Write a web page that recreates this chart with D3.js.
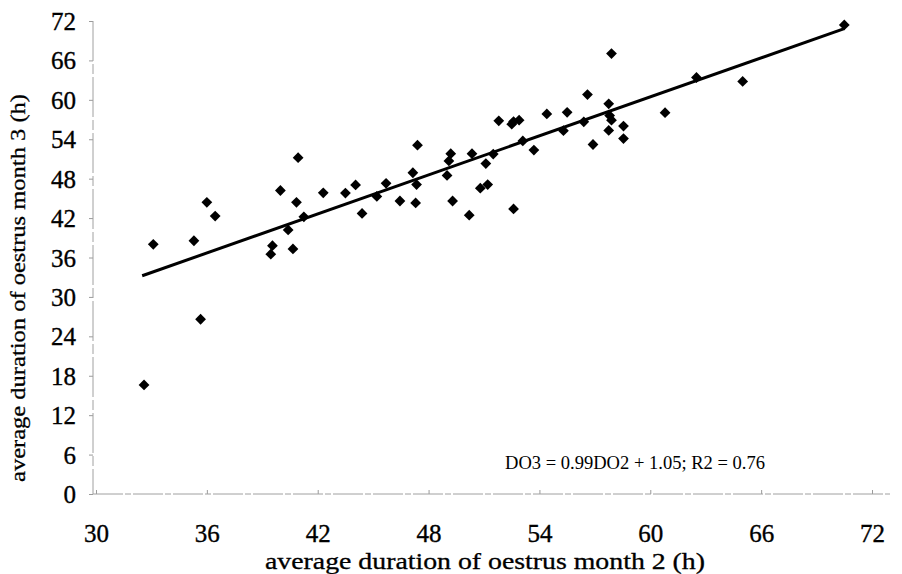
<!DOCTYPE html>
<html>
<head>
<meta charset="utf-8">
<script src="https://cdn.jsdelivr.net/npm/d3@7/dist/d3.min.js"></script>
<style>
  html, body { margin: 0; padding: 0; background: #fff; }
  svg { display: block; }
  text { font-family: "Liberation Serif", "Times New Roman", serif; fill: #000; }
</style>
</head>
<body>
<svg id="chart" width="902" height="574"></svg>
<script>
// ---- data ----
const month2 = [32.6, 33.1, 35.3, 35.66, 36.0, 36.45, 39.46, 39.55, 39.98, 40.4,
  40.66, 40.85, 40.94, 41.25, 42.3, 43.5, 44.05, 44.4, 45.2, 45.7,
  46.45, 47.15, 47.3, 47.35, 47.4, 49.0, 49.1, 49.2, 49.3, 50.2,
  50.35, 50.8, 51.1, 51.2, 51.5, 51.8, 52.5, 52.6, 52.6, 52.9,
  53.1, 53.7, 54.4, 55.3, 55.5, 56.4, 56.6, 56.9, 57.75, 57.8,
  57.9, 57.75, 57.9, 58.55, 58.55, 60.8, 62.5, 65.0, 70.5];
const month3 = [16.6, 38.0, 38.55, 26.6, 44.4, 42.3, 36.5, 37.8, 46.2, 40.2,
  37.3, 44.4, 51.2, 42.2, 45.85, 45.8, 47.05, 42.7, 45.3, 47.3,
  44.6, 48.9, 44.3, 47.1, 53.1, 48.5, 50.7, 51.8, 44.6, 42.45,
  51.8, 46.55, 50.3, 47.1, 51.75, 56.8, 56.3, 56.7, 43.4, 56.9,
  53.75, 52.35, 57.85, 55.3, 58.1, 56.65, 60.8, 53.2, 59.4, 57.6,
  56.9, 55.35, 67.05, 56.0, 54.1, 58.05, 63.4, 62.8, 71.4];
const xTicks = [30, 36, 42, 48, 54, 60, 66, 72];
const yTicks = [0, 6, 12, 18, 24, 30, 36, 42, 48, 54, 60, 66, 72];
const slope = 0.99, intercept = 1.05;
const fitRange = [32.5, 70.5];
const equation = "DO3 = 0.99DO2 + 1.05; R2 = 0.76";
const xTitle = "average duration of oestrus month 2 (h)";
const yTitle = "average duration of oestrus month 3 (h)";

// ---- chart ----
const svg = d3.select("#chart");
const x = d3.scaleLinear().domain([30, 72]).range([96, 872]);
const y = d3.scaleLinear().domain([0, 72]).range([494, 21]);
const FONT = '"Liberation Serif", "Times New Roman", serif';

// axes
const xAxis = d3.axisBottom(x).tickValues(xTicks).tickSize(4).tickPadding(26).tickSizeOuter(0);
const yAxis = d3.axisLeft(y).tickValues(yTicks).tickSize(4).tickPadding(13).tickSizeOuter(0);

const gx = svg.append("g").attr("transform", "translate(0,494)").call(xAxis);
const gy = svg.append("g").attr("transform", `translate(${x(30) - 3},0)`).call(yAxis);
[gx, gy].forEach(g => {
  g.attr("font-family", FONT).attr("font-size", 25);
  g.select(".domain").remove();
  g.selectAll(".tick line").attr("stroke", "#9a9a9a").attr("stroke-width", 1);
  g.selectAll(".tick text").attr("fill", "#000")
    .attr("stroke", "#000").attr("stroke-width", 0.35);
});
gx.selectAll(".tick line").attr("y2", -4);
gy.selectAll(".tick text").attr("dy", "0.34em");
// axis lines (faint, like the scan)
svg.append("line").attr("x1", x(30) - 3).attr("x2", 890).attr("y1", 494).attr("y2", 494)
  .attr("stroke", "#a0a0a0").attr("stroke-width", 1).attr("stroke-dasharray", "30,2,6,2");
svg.append("line").attr("x1", x(30) - 3).attr("x2", x(30) - 3).attr("y1", y(72)).attr("y2", 494)
  .attr("stroke", "#a0a0a0").attr("stroke-width", 1).attr("stroke-dasharray", "40,3,10,3");

// regression line
svg.append("line")
  .attr("x1", x(fitRange[0])).attr("y1", y(slope * fitRange[0] + intercept))
  .attr("x2", x(fitRange[1])).attr("y2", y(slope * fitRange[1] + intercept))
  .attr("stroke", "#000").attr("stroke-width", 3);

// points
const diamond = d3.symbol().type(d3.symbolSquare).size(58);
svg.append("g").selectAll("path").data(month2.map((d, i) => [d, month3[i]])).join("path")
  .attr("d", diamond)
  .attr("transform", d => `translate(${x(d[0])},${y(d[1])}) rotate(45)`)
  .attr("fill", "#000");

// equation
svg.append("text").attr("x", 505).attr("y", 469)
  .attr("textLength", 260).attr("lengthAdjust", "spacingAndGlyphs")
  .attr("font-family", FONT).attr("font-size", 19).text(equation);

// axis titles
svg.append("text").attr("x", 485).attr("y", 569).attr("text-anchor", "middle")
  .attr("textLength", 440).attr("lengthAdjust", "spacingAndGlyphs")
  .attr("font-family", FONT).attr("font-size", 23)
  .attr("stroke", "#000").attr("stroke-width", 0.3).text(xTitle);
svg.append("text").attr("transform", "translate(25,288) rotate(-90)").attr("text-anchor", "middle")
  .attr("textLength", 388).attr("lengthAdjust", "spacingAndGlyphs")
  .attr("font-family", FONT).attr("font-size", 22)
  .attr("stroke", "#000").attr("stroke-width", 0.3).text(yTitle);
</script>
</body>
</html>
